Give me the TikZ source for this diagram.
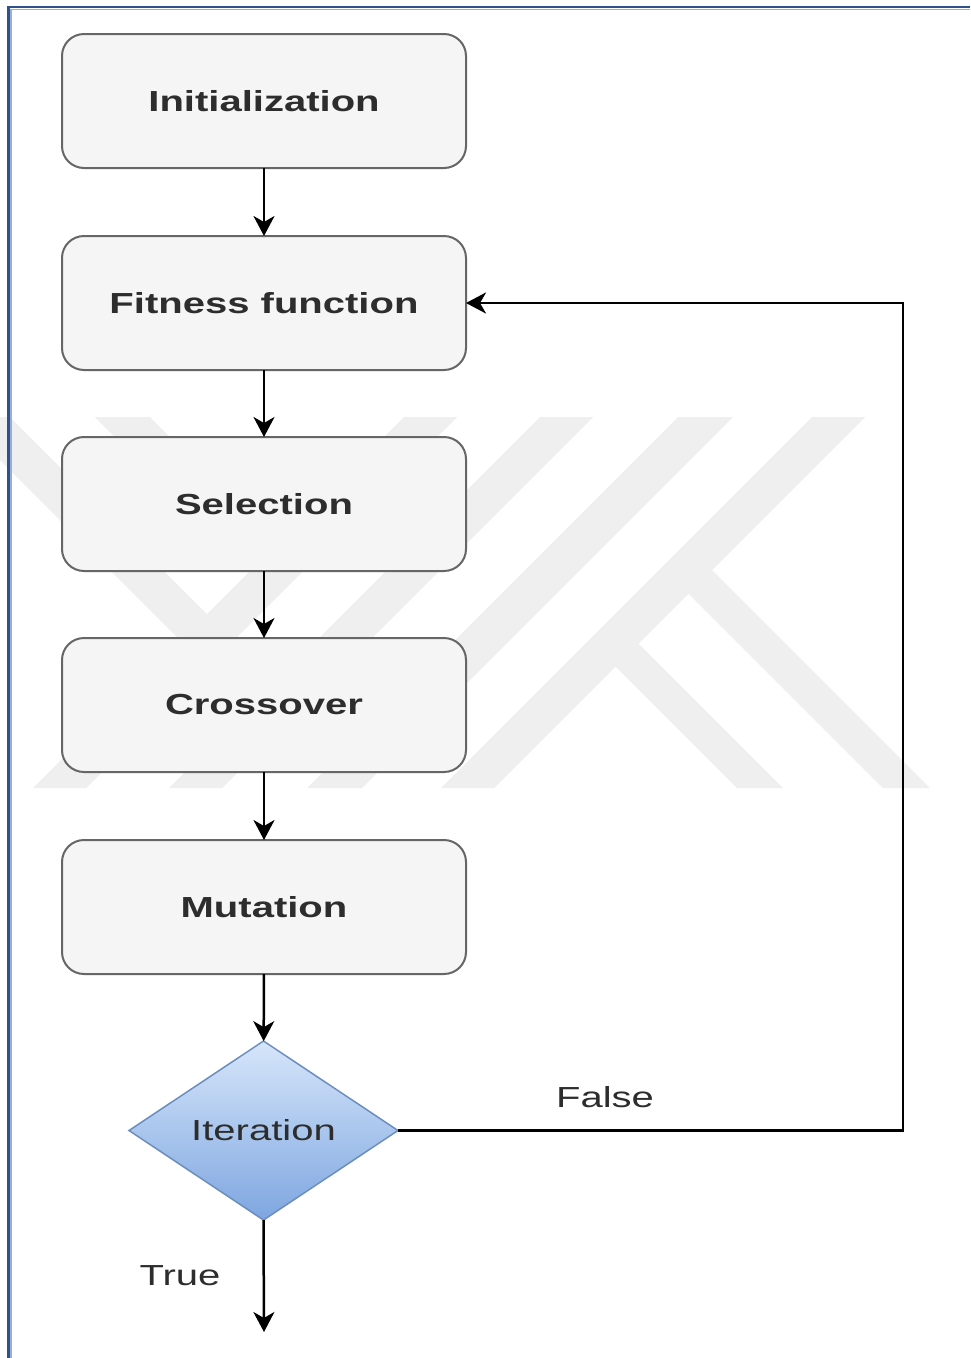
\documentclass[tikz,border=0pt]{standalone}
\usepackage{fontspec}
\usepackage{graphicx}
\setmainfont{Liberation Sans}
\usetikzlibrary{arrows.meta,shapes.geometric}

\definecolor{wm}{RGB}{239,239,239}
\definecolor{boxfill}{RGB}{245,245,245}
\definecolor{boxline}{RGB}{102,102,102}
\definecolor{txt}{RGB}{45,45,45}
\definecolor{dtop}{RGB}{214,230,250}
\definecolor{dbot}{RGB}{126,166,224}
\definecolor{dline}{RGB}{108,142,191}
\definecolor{frameblue}{RGB}{47,82,143}
\definecolor{framelight}{RGB}{150,175,215}

% wide set labels
\newcommand{\wide}[1]{\scalebox{1.38}[1]{#1}}

\begin{document}
\begin{tikzpicture}[x=1pt,y=-1pt,
  stepbox/.style={draw=boxline, line width=2pt, fill=boxfill, rounded corners=22pt,
    minimum width=404pt, minimum height=134pt, inner sep=0pt, outer sep=0pt,
    text=txt, font=\fontsize{29}{34}\selectfont\bfseries},
  decision/.style={diamond, draw=dline, line width=1.5pt, top color=dtop, bottom color=dbot,
    minimum width=269pt, minimum height=179pt, inner sep=0pt, outer sep=0pt,
    text=txt, font=\fontsize{29}{34}\selectfont},
  flow/.style={draw=black, line width=2.5pt, -{Stealth[length=20pt,width=21pt,inset=6pt]}},
  lbl/.style={text=txt, font=\fontsize{29}{34}\selectfont, inner sep=0pt}
]
\useasboundingbox (0,0) rectangle (970,1358);
\fill[white] (0,0) rectangle (970,1358);

% background emblem
\begin{scope}
  \clip (0,0) rectangle (970,1358);
  \fill[wm] (404,417) -- (457,417) -- (86,788) -- (33,788) -- cycle;
  \fill[wm] (540,417) -- (593,417) -- (222,788) -- (169,788) -- cycle;
  \fill[wm] (678,417) -- (733,417) -- (362,788) -- (307,788) -- cycle;
  \fill[wm] (812,417) -- (865,417) -- (494,788) -- (441,788) -- cycle;
  \fill[wm] (-43,417) -- (10,417) -- (220,627) -- (192,652) -- cycle;
  \fill[wm] (95,417) -- (150,417) -- (290,557) -- (263,585) -- cycle;
  \fill[wm] (699,557) -- (930,788) -- (883,788) -- (675,580) -- cycle;
  \fill[wm] (625,630) -- (783,788) -- (737,788) -- (602,653) -- cycle;
\end{scope}

% page frame
\draw[framelight, line width=1.2pt] (11,1358) -- (11,9.5) -- (970,9.5);
\draw[frameblue, line width=2.6pt] (8.5,1358) -- (8.5,7) -- (970,7);

% steps
\node[stepbox] (init)  at (264,101) {\wide{Initialization}};
\node[stepbox] (fit)   at (264,303) {\wide{Fitness function}};
\node[stepbox] (sel)   at (264,504) {\wide{Selection}};
\node[stepbox] (cross) at (264,705) {\wide{Crossover}};
\node[stepbox] (mut)   at (264,907) {\wide{Mutation}};
\node[decision] (iter) at (263.5,1130.5) {\wide{Iteration}};

\coordinate (bend) at (903,1130.5);
\coordinate (done) at (264,1332);

% connectors
\draw[flow] (init) -- (fit);
\draw[flow] (fit) -- (sel);
\draw[flow] (sel) -- (cross);
\draw[flow] (cross) -- (mut);
\draw[flow] (mut) -- (iter);
\draw[flow] (iter.south) -- (done);
\draw[flow] (iter.east) -- (bend) |- (fit.east);

% branch labels
\node[lbl] (lfalse) at (605,1097) {\wide{False}};
\node[lbl] (ltrue)  at (180,1276) {\wide{True}};
\end{tikzpicture}
\end{document}
